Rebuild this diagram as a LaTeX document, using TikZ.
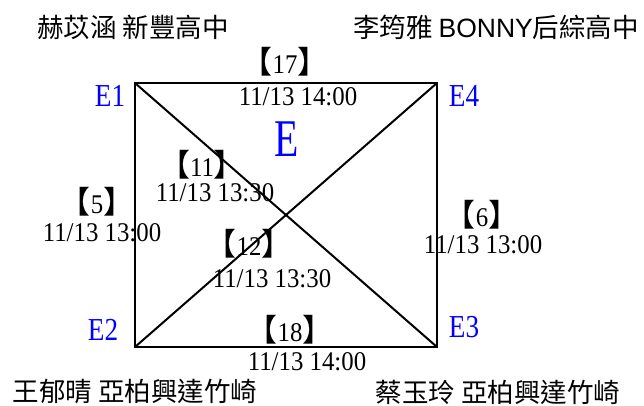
\documentclass[tikz,border=0pt]{standalone}
\usepackage{fontspec}
\newfontfamily\cjkfont{Noto Sans CJK TC}
\newfontfamily\latinfont{Liberation Sans}
\newfontfamily\numfont[FakeStretch=0.92]{Liberation Serif}
\newfontfamily\labfont[FakeStretch=0.85]{Liberation Serif}
\newfontfamily\bigfont[FakeStretch=0.75]{Liberation Serif}
\newcommand{\gameno}[1]{{\cjkfont\fontsize{31}{34}\selectfont 【}#1{\cjkfont\fontsize{31}{34}\selectfont 】}}

\begin{document}
\begin{tikzpicture}[
        x=1pt, y=-1pt,
        edge/.style={line width=2pt, black},
        corner/.style={inner sep=0pt, text=blue, font=\labfont\fontsize{32}{36}\selectfont},
        group/.style={inner sep=0pt, text=blue, font=\bigfont\fontsize{53}{58}\selectfont},
        player/.style={inner sep=0pt, font=\cjkfont\fontsize{26.5}{30}\selectfont},
        gamenum/.style={inner sep=0pt, font=\numfont\fontsize{27}{30}\selectfont},
        gametime/.style={inner sep=0pt, font=\numfont\fontsize{27}{30}\selectfont}
    ]
    \useasboundingbox (0,0) rectangle (644,406);

    % Corners of the group square
    \coordinate (e1) at (135, 83);
    \coordinate (e4) at (437, 83);
    \coordinate (e2) at (135, 347);
    \coordinate (e3) at (437, 347);

    % Players
    \node[player] (p1) at (133, 27) {赫苡涵 新豐高中};
    \node[player] (p4) at (496, 27) {李筠雅 {\latinfont BONNY}后綜高中};
    \node[player] (p2) at (135, 392) {王郁晴 亞柏興達竹崎};
    \node[player] (p3) at (498, 392) {蔡玉玲 亞柏興達竹崎};

    % Corner labels
    \node[corner] (lab_e1) at (110, 96) {E1};
    \node[corner] (lab_e4) at (464, 96) {E4};
    \node[corner] (lab_e2) at (103, 330) {E2};
    \node[corner] (lab_e3) at (464, 327) {E3};

    \node[group] (grp) at (287, 139) {E};

    % --- Edges ---
    \draw[edge] (e1) -- (e4) -- (e3) -- (e2) -- cycle;
    \draw[edge] (e1) -- (e3);
    \draw[edge] (e4) -- (e2);

    % Games: number and time
    \node[gamenum] (g17) at (285, 62) {\gameno{17}};
    \node[gametime] (t17) at (298, 97) {11/13 14:00};

    \node[gamenum] (g11) at (202, 165) {\gameno{11}};
    \node[gametime] (t11) at (215, 193) {11/13 13:30};

    \node[gamenum] (g5) at (97, 202) {\gameno{5}};
    \node[gametime] (t5) at (102, 233) {11/13 13:00};

    \node[gamenum] (g12) at (249, 244) {\gameno{12}};
    \node[gametime] (t12) at (272, 279) {11/13 13:30};

    \node[gamenum] (g6) at (482, 215) {\gameno{6}};
    \node[gametime] (t6) at (483, 245) {11/13 13:00};

    \node[gamenum] (g18) at (290, 330) {\gameno{18}};
    \node[gametime] (t18) at (307, 362) {11/13 14:00};

\end{tikzpicture}
\end{document}
